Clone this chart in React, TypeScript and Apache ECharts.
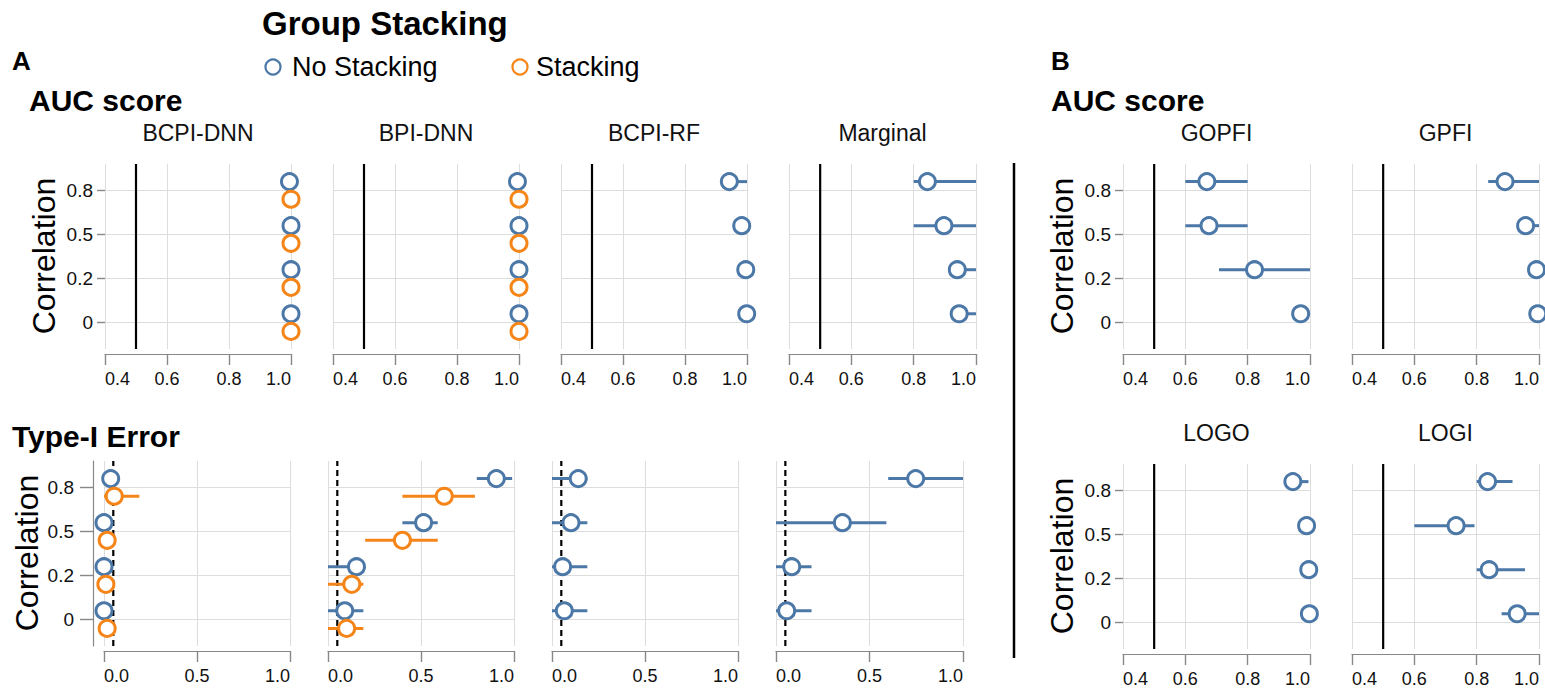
import React, { useEffect, useRef } from "react";
import * as echarts from "echarts";

// ---------- DATA ----------
// correlation categories (index 0..3, bottom to top)
const correlationLabels = ["0", "0.2", "0.5", "0.8"];

// Panel A — AUC score (values ordered by correlation 0, 0.2, 0.5, 0.8)
const aucBcpiDnnNoMean = [1.0, 1.0, 1.0, 0.995];
const aucBcpiDnnNoLow = [0.995, 0.995, 0.995, 0.985];
const aucBcpiDnnNoHigh = [1.0, 1.0, 1.0, 1.0];
const aucBcpiDnnStMean = [1.0, 1.0, 1.0, 1.0];
const aucBcpiDnnStLow = [0.995, 0.995, 0.995, 0.995];
const aucBcpiDnnStHigh = [1.0, 1.0, 1.0, 1.0];

const aucBpiDnnNoMean = [1.0, 1.0, 1.0, 0.995];
const aucBpiDnnNoLow = [0.995, 0.995, 0.995, 0.985];
const aucBpiDnnNoHigh = [1.0, 1.0, 1.0, 1.0];
const aucBpiDnnStMean = [1.0, 1.0, 1.0, 1.0];
const aucBpiDnnStLow = [0.995, 0.995, 0.995, 0.995];
const aucBpiDnnStHigh = [1.0, 1.0, 1.0, 1.0];

const aucBcpiRfNoMean = [0.999, 0.996, 0.983, 0.943];
const aucBcpiRfNoLow = [0.99, 0.985, 0.965, 0.92];
const aucBcpiRfNoHigh = [1.0, 1.0, 1.0, 1.0];

const aucMarginalNoMean = [0.946, 0.94, 0.897, 0.844];
const aucMarginalNoLow = [0.93, 0.92, 0.8, 0.8];
const aucMarginalNoHigh = [1.0, 1.0, 1.0, 1.0];

// Panel A — Type-I error
const errBcpiDnnNoMean = [0.0, 0.0, 0.0, 0.036];
const errBcpiDnnNoLow = [0.0, 0.0, 0.0, 0.0];
const errBcpiDnnNoHigh = [0.02, 0.02, 0.02, 0.06];
const errBcpiDnnStMean = [0.017, 0.01, 0.017, 0.055];
const errBcpiDnnStLow = [0.0, 0.0, 0.0, 0.0];
const errBcpiDnnStHigh = [0.04, 0.04, 0.04, 0.19];

const errBpiDnnNoMean = [0.09, 0.153, 0.514, 0.905];
const errBpiDnnNoLow = [0.0, 0.0, 0.4, 0.8];
const errBpiDnnNoHigh = [0.19, 0.2, 0.59, 0.99];
const errBpiDnnStMean = [0.1, 0.128, 0.4, 0.625];
const errBpiDnnStLow = [0.0, 0.0, 0.2, 0.4];
const errBpiDnnStHigh = [0.19, 0.19, 0.59, 0.79];

const errBcpiRfNoMean = [0.066, 0.057, 0.102, 0.141];
const errBcpiRfNoLow = [0.0, 0.0, 0.0, 0.0];
const errBcpiRfNoHigh = [0.19, 0.19, 0.19, 0.19];

const errMarginalNoMean = [0.057, 0.084, 0.355, 0.747];
const errMarginalNoLow = [0.0, 0.0, 0.0, 0.6];
const errMarginalNoHigh = [0.19, 0.19, 0.59, 1.0];

// Panel B — AUC score
const aucGopfiMean = [0.97, 0.822, 0.676, 0.669];
const aucGopfiLow = [0.95, 0.708, 0.6, 0.6];
const aucGopfiHigh = [0.99, 1.0, 0.8, 0.8];

const aucGpfiMean = [0.996, 0.992, 0.957, 0.891];
const aucGpfiLow = [0.985, 0.975, 0.93, 0.837];
const aucGpfiHigh = [1.0, 1.0, 1.0, 1.0];

const aucLogoMean = [0.998, 0.996, 0.989, 0.945];
const aucLogoLow = [0.99, 0.985, 0.97, 0.92];
const aucLogoHigh = [1.0, 1.0, 1.0, 0.995];

const aucLogiMean = [0.93, 0.84, 0.734, 0.835];
const aucLogiLow = [0.88, 0.8, 0.6, 0.8];
const aucLogiHigh = [1.0, 0.955, 0.793, 0.915];

const aucTicks = [0.4, 0.6, 0.8, 1.0];
const errTicks = [0.0, 0.5, 1.0];
const aucReference = 0.5;
const errReference = 0.05;

// ---------- STYLE / LAYOUT ----------
const BLUE = "#4c78a8";
const ORANGE = "#f58518";
const AXIS_GRAY = "#888";
const FONT = "'Liberation Sans', Arial, Helvetica, sans-serif";
const Y_MIN = -0.6;
const Y_MAX = 3.6;

type Group = { name: string; color: string; mean: number[]; low: number[]; high: number[]; off: number };
type Panel = {
  title: string;
  kind: "auc" | "err";
  left: number;
  top: number;
  width: number;
  height: number;
  yLabels: boolean;
  yAxisOffset: number;
  groups: Group[];
};

const no = (mean: number[], low: number[], high: number[]): Group => ({
  name: "No Stacking",
  color: BLUE,
  mean,
  low,
  high,
  off: 0.2,
});
const st = (mean: number[], low: number[], high: number[]): Group => ({
  name: "Stacking",
  color: ORANGE,
  mean,
  low,
  high,
  off: -0.2,
});

const panels: Panel[] = [
  // A top row
  { title: "BCPI-DNN", kind: "auc", left: 105, top: 164, width: 186, height: 185, yLabels: true, yAxisOffset: 0,
    groups: [no(aucBcpiDnnNoMean, aucBcpiDnnNoLow, aucBcpiDnnNoHigh), st(aucBcpiDnnStMean, aucBcpiDnnStLow, aucBcpiDnnStHigh)] },
  { title: "BPI-DNN", kind: "auc", left: 333, top: 164, width: 186, height: 185, yLabels: false, yAxisOffset: 0,
    groups: [no(aucBpiDnnNoMean, aucBpiDnnNoLow, aucBpiDnnNoHigh), st(aucBpiDnnStMean, aucBpiDnnStLow, aucBpiDnnStHigh)] },
  { title: "BCPI-RF", kind: "auc", left: 561, top: 164, width: 186, height: 185, yLabels: false, yAxisOffset: 0,
    groups: [no(aucBcpiRfNoMean, aucBcpiRfNoLow, aucBcpiRfNoHigh)] },
  { title: "Marginal", kind: "auc", left: 789, top: 164, width: 187, height: 185, yLabels: false, yAxisOffset: 0,
    groups: [no(aucMarginalNoMean, aucMarginalNoLow, aucMarginalNoHigh)] },
  // A bottom row
  { title: "", kind: "err", left: 104, top: 461, width: 186, height: 185, yLabels: true, yAxisOffset: 11,
    groups: [no(errBcpiDnnNoMean, errBcpiDnnNoLow, errBcpiDnnNoHigh), st(errBcpiDnnStMean, errBcpiDnnStLow, errBcpiDnnStHigh)] },
  { title: "", kind: "err", left: 328, top: 461, width: 186, height: 185, yLabels: false, yAxisOffset: 0,
    groups: [no(errBpiDnnNoMean, errBpiDnnNoLow, errBpiDnnNoHigh), st(errBpiDnnStMean, errBpiDnnStLow, errBpiDnnStHigh)] },
  { title: "", kind: "err", left: 552, top: 461, width: 186, height: 185, yLabels: false, yAxisOffset: 0,
    groups: [no(errBcpiRfNoMean, errBcpiRfNoLow, errBcpiRfNoHigh)] },
  { title: "", kind: "err", left: 776, top: 461, width: 187, height: 185, yLabels: false, yAxisOffset: 0,
    groups: [no(errMarginalNoMean, errMarginalNoLow, errMarginalNoHigh)] },
  // B
  { title: "GOPFI", kind: "auc", left: 1123, top: 164, width: 187, height: 185, yLabels: true, yAxisOffset: 0,
    groups: [no(aucGopfiMean, aucGopfiLow, aucGopfiHigh)] },
  { title: "GPFI", kind: "auc", left: 1352, top: 164, width: 187, height: 185, yLabels: false, yAxisOffset: 0,
    groups: [no(aucGpfiMean, aucGpfiLow, aucGpfiHigh)] },
  { title: "LOGO", kind: "auc", left: 1123, top: 464, width: 187, height: 185, yLabels: true, yAxisOffset: 0,
    groups: [no(aucLogoMean, aucLogoLow, aucLogoHigh)] },
  { title: "LOGI", kind: "auc", left: 1352, top: 464, width: 187, height: 185, yLabels: false, yAxisOffset: 0,
    groups: [no(aucLogiMean, aucLogiLow, aucLogiHigh)] },
];

function buildOption() {
  const grid: any[] = [];
  const xAxis: any[] = [];
  const yAxis: any[] = [];
  const series: any[] = [];
  const graphic: any[] = [];

  const catValues = correlationLabels.map((_, i) => i);

  panels.forEach((p, i) => {
    const isAuc = p.kind === "auc";
    const ticks = isAuc ? aucTicks : errTicks;
    grid.push({ left: p.left, top: p.top, width: p.width, height: p.height, containLabel: false, outerBoundsMode: "none" });
    xAxis.push({
      type: "value",
      gridIndex: i,
      position: "bottom",
      min: ticks[0],
      max: ticks[ticks.length - 1],
      interval: ticks[1] - ticks[0],
      offset: 5,
      axisLine: { show: true, onZero: false, lineStyle: { color: AXIS_GRAY, width: 1.2 } },
      axisTick: { show: true, inside: false, length: 11, customValues: ticks, lineStyle: { color: AXIS_GRAY, width: 1.4 } },
      axisLabel: {
        show: true,
        fontSize: 18,
        fontFamily: FONT,
        color: "#111",
        margin: 16,
        showMinLabel: true,
        showMaxLabel: true,
        alignMinLabel: "left",
        alignMaxLabel: "right",
        formatter: (v: number) => v.toFixed(1),
      },
      splitLine: { show: true, lineStyle: { color: "#ddd", width: 1 } },
    });
    yAxis.push({
      type: "value",
      gridIndex: i,
      position: "left",
      min: Y_MIN,
      max: Y_MAX,
      offset: p.yAxisOffset,
      axisLine: { show: p.yAxisOffset > 0, onZero: false, lineStyle: { color: AXIS_GRAY, width: 1.2 } },
      axisTick: {
        show: p.yLabels,
        inside: false,
        length: p.yAxisOffset > 0 ? 13 : 8,
        customValues: catValues,
        lineStyle: { color: AXIS_GRAY, width: 1.4 },
      },
      axisLabel: {
        show: p.yLabels,
        customValues: catValues,
        fontSize: 19,
        fontFamily: FONT,
        color: "#111",
        margin: p.yAxisOffset > 0 ? 19 : 12,
        formatter: (v: number) => correlationLabels[Math.round(v)] ?? "",
      },
      splitLine: { show: true, lineStyle: { color: "#ddd", width: 1 } },
    });

    const ref = isAuc ? aucReference : errReference;
    series.push({
      type: "line",
      xAxisIndex: i,
      yAxisIndex: i,
      data: [
        [ref, Y_MIN],
        [ref, Y_MAX],
      ],
      symbol: "none",
      silent: true,
      lineStyle: { color: "#000", width: 2.2, type: isAuc ? "solid" : [6, 4] },
      z: 1,
    });

    p.groups.forEach((g) => {
      series.push({
        type: "custom",
        name: g.name,
        xAxisIndex: i,
        yAxisIndex: i,
        data: g.low.map((lo, k) => [lo, g.high[k], k + g.off]),
        encode: { x: [0, 1], y: 2 },
        silent: true,
        z: 2,
        renderItem: (_params: any, api: any) => {
          const a = api.coord([api.value(0), api.value(2)]);
          const b = api.coord([api.value(1), api.value(2)]);
          return {
            type: "line",
            shape: { x1: a[0], y1: a[1], x2: b[0], y2: b[1] },
            style: { stroke: g.color, lineWidth: 3 },
          };
        },
      });
      series.push({
        type: "scatter",
        name: g.name,
        xAxisIndex: i,
        yAxisIndex: i,
        data: g.mean.map((m, k) => [m, k + g.off]),
        symbol: "circle",
        symbolSize: 16,
        clip: false,
        silent: true,
        z: 3,
        itemStyle: { color: "#fff", borderColor: g.color, borderWidth: 3, opacity: 1 },
      });
    });

    if (p.title) {
      graphic.push({
        type: "text",
        x: p.left + p.width / 2,
        y: p.top - 31,
        style: {
          text: p.title,
          fontSize: 23,
          fontFamily: FONT,
          fill: "#111",
          textAlign: "center",
          textVerticalAlign: "middle",
        },
      });
    }
  });

  const bold = (text: string, x: number, y: number, size: number) => ({
    type: "text",
    x,
    y,
    style: { text, fontSize: size, fontWeight: "bold", fontFamily: FONT, fill: "#000", textAlign: "left", textVerticalAlign: "middle" },
  });
  const corr = (x: number, y: number) => ({
    type: "text",
    x,
    y,
    rotation: Math.PI / 2,
    style: { text: "Correlation", fontSize: 32, fontFamily: FONT, fill: "#000", textAlign: "center", textVerticalAlign: "middle" },
  });

  graphic.push(bold("Group Stacking", 262, 23, 33));
  graphic.push(bold("A", 12, 61, 26));
  graphic.push(bold("AUC score", 29, 100, 30));
  graphic.push(bold("Type-I Error", 12, 436, 30));
  graphic.push(bold("B", 1051, 61, 26));
  graphic.push(bold("AUC score", 1051, 100, 30));

  // legend
  graphic.push({ type: "circle", shape: { cx: 273, cy: 67, r: 7.5 }, style: { fill: "#fff", stroke: BLUE, lineWidth: 2.2 } });
  graphic.push({
    type: "text",
    x: 292,
    y: 67,
    style: { text: "No Stacking", fontSize: 27, fontFamily: FONT, fill: "#000", textAlign: "left", textVerticalAlign: "middle" },
  });
  graphic.push({ type: "circle", shape: { cx: 520, cy: 67, r: 7.5 }, style: { fill: "#fff", stroke: ORANGE, lineWidth: 2.2 } });
  graphic.push({
    type: "text",
    x: 536,
    y: 67,
    style: { text: "Stacking", fontSize: 27, fontFamily: FONT, fill: "#000", textAlign: "left", textVerticalAlign: "middle" },
  });

  graphic.push(corr(44, 256));
  graphic.push(corr(27, 553));
  graphic.push(corr(1062, 256));
  graphic.push(corr(1062, 556));

  // separator between A and B
  graphic.push({ type: "line", shape: { x1: 1014, y1: 163, x2: 1014, y2: 658 }, style: { stroke: "#000", lineWidth: 2.5 } });

  return {
    animation: false,
    backgroundColor: "#fff",
    textStyle: { fontFamily: FONT },
    grid,
    xAxis,
    yAxis,
    series,
    graphic,
  };
}

export default function App() {
  const ref = useRef<HTMLDivElement>(null);
  useEffect(() => {
    if (!ref.current) return;
    const chart = echarts.init(ref.current, undefined, { renderer: "svg" });
    chart.setOption(buildOption() as any);
    return () => chart.dispose();
  }, []);
  return <div ref={ref} style={{ position: "absolute", left: 0, top: 0, width: 1545, height: 688 }} />;
}
